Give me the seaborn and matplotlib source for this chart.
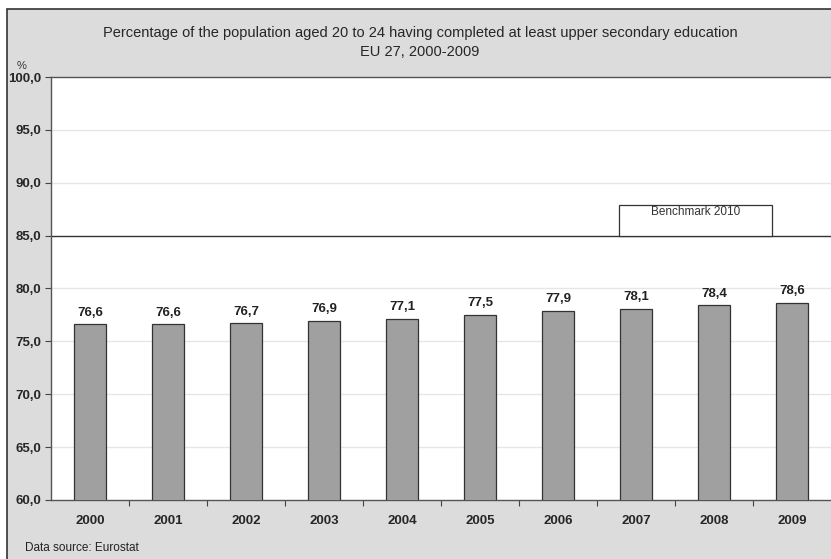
import matplotlib
matplotlib.use("Agg")
import matplotlib.pyplot as plt
from matplotlib.patches import Rectangle
import seaborn as sns
import pandas as pd

years = ["2000", "2001", "2002", "2003", "2004", "2005", "2006", "2007", "2008", "2009"]
values = [76.6, 76.6, 76.7, 76.9, 77.1, 77.5, 77.9, 78.1, 78.4, 78.6]
benchmark = 85.0
yticks = [60, 65, 70, 75, 80, 85, 90, 95, 100]

sns.set_theme(style="white")
plt.rcParams['font.family'] = ['Liberation Sans', 'DejaVu Sans']

fig = plt.figure(figsize=(8.31, 5.59), dpi=100)
fig.patch.set_facecolor("white")
bg = Rectangle((7/831, -0.05), 1.05, 1.05 - 9/559, transform=fig.transFigure,
               facecolor="#dcdcdc", edgecolor="#333333", linewidth=1.2, zorder=-10)
fig.patches.append(bg)

ax = fig.add_axes([51/831, 1 - 500/559, 1 - 51/831, (500 - 77)/559])
ax.set_zorder(1)
ax.set_facecolor("white")

df = pd.DataFrame({"year": years, "value": values})
sns.barplot(data=df, x="year", y="value", color="#a0a0a0", width=0.4,
            edgecolor="#333333", linewidth=0.9, saturation=1, ax=ax, zorder=3)

ax.set_ylim(60, 100)
ax.set_xlim(-0.5, len(years) - 0.5)
ax.set_yticks(yticks)
ax.set_yticklabels([f"{t:.1f}".replace(".", ",") for t in yticks], fontweight="bold", fontsize=9.5)
ax.tick_params(axis="x", length=0, pad=11)
for lab in ax.get_xticklabels():
    lab.set_fontweight("bold")
    lab.set_fontsize(9.5)
ax.tick_params(axis="y", length=4, width=0.8, color="#444444", left=True, pad=3)
ax.set_xlabel("")
ax.set_ylabel("")

# minor ticks between categories on x axis
ax.set_xticks([i + 0.5 for i in range(len(years) - 1)], minor=True)
ax.tick_params(axis="x", which="minor", length=4, width=0.8, color="#444444", bottom=True)

for t in yticks:
    if t not in (60, 85, 100):
        ax.axhline(t, color="#e6e6e6", linewidth=1.0, zorder=1)
ax.axhline(benchmark, color="#333333", linewidth=1.0, zorder=2)

for s in ["left", "bottom", "top"]:
    ax.spines[s].set_visible(True)
    ax.spines[s].set_color("#555555")
    ax.spines[s].set_linewidth(1.0)
ax.spines["right"].set_visible(False)

for i, v in enumerate(values):
    ax.text(i, v + 0.55, f"{v:.1f}".replace(".", ","), ha="center", va="bottom",
            fontsize=9.5, fontweight="bold", color="#222222")

# Benchmark box
bx0, bx1 = 6.78, 8.74
ax.add_patch(Rectangle((bx0, benchmark), bx1 - bx0, 2.9, facecolor="white",
                       edgecolor="#333333", linewidth=0.9, zorder=4))
ax.text((bx0 + bx1) / 2, benchmark + 2.2, "Benchmark 2010", ha="center", va="center",
        fontsize=8.5, color="#333333", zorder=5)

fig.text(420/831, 1 - 33/559, "Percentage of the population aged 20 to 24 having completed at least upper secondary education",
         ha="center", va="center", fontsize=10.5)
fig.text(420/831, 1 - 52/559, "EU 27, 2000-2009", ha="center", va="center", fontsize=10.5)
fig.text(22/831, 1 - 66/559, "%", ha="center", va="center", fontsize=8, color="#333333")
fig.text(25/831, 1 - 548/559, "Data source: Eurostat", ha="left", va="center", fontsize=8.5, color="#222222")

fig.savefig("out.png", dpi=100, facecolor=fig.get_facecolor())
